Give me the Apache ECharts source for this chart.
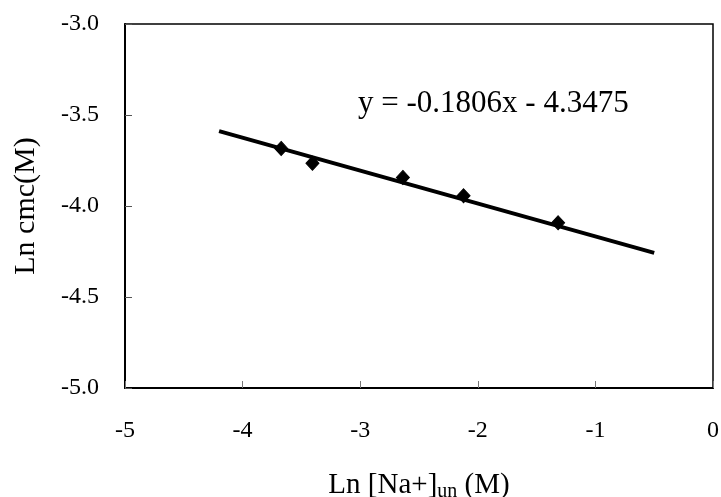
<!DOCTYPE html>
<html>
<head>
<meta charset="utf-8">
<script src="https://cdn.jsdelivr.net/npm/echarts@6/dist/echarts.min.js"></script>
<style>
  html, body { margin: 0; padding: 0; background: #fff; }
  #chart { width: 721px; height: 497px; }
</style>
</head>
<body>
<div id="chart"></div>
<script>
// Measured points: ln of unbound sodium concentration vs ln cmc
const lnNa = [-3.672, -3.406, -2.637, -2.121, -1.317];
const lnCmc = [-3.684, -3.765, -3.843, -3.944, -4.092];

// Linear fit, as printed on the chart
const slope = -0.1806;
const intercept = -4.3475;
const fitRange = [-4.2, -0.5];

const xTicks = [-5, -4, -3, -2, -1, 0];
const yTicks = [-5.0, -4.5, -4.0, -3.5, -3.0];

const serif = '"Liberation Serif", "Times New Roman", serif';

const points = lnNa.map((x, i) => [x, lnCmc[i]]);
const fitLine = fitRange.map(x => [x, slope * x + intercept]);
const eqText = 'y = ' + slope.toFixed(4) + 'x - ' + Math.abs(intercept).toFixed(4);

const chart = echarts.init(document.getElementById('chart'));
chart.setOption({
  animation: false,
  backgroundColor: '#fff',
  grid: {
    left: 125, top: 24, right: 8, bottom: 109,
    containLabel: false,
    outerBoundsMode: 'none',
    show: true, borderColor: '#000', borderWidth: 1.5
  },
  xAxis: {
    type: 'value',
    min: xTicks[0], max: xTicks[xTicks.length - 1], interval: 1,
    name: 'Ln [Na+]{sub|un} (M)',
    nameLocation: 'middle',
    nameGap: 80,
    nameTextStyle: {
      fontFamily: serif, fontSize: 29, color: '#000',
      rich: { sub: { fontFamily: serif, fontSize: 20, color: '#000', padding: [14, 0, 0, 0] } }
    },
    axisLine: { show: true, onZero: false, lineStyle: { color: '#000', width: 2 } },
    axisTick: { show: true, inside: true, length: 7, lineStyle: { color: '#777', width: 1 } },
    axisLabel: { fontFamily: serif, fontSize: 24, color: '#000', margin: 31 },
    splitLine: { show: false }
  },
  yAxis: {
    type: 'value',
    min: yTicks[0], max: yTicks[yTicks.length - 1], interval: 0.5,
    name: 'Ln cmc(M)',
    nameLocation: 'middle',
    nameGap: 84,
    nameRotate: 90,
    nameTextStyle: { fontFamily: serif, fontSize: 30, color: '#000' },
    axisLine: { show: true, onZero: false, lineStyle: { color: '#000', width: 2 } },
    axisTick: { show: true, inside: true, length: 7, lineStyle: { color: '#555', width: 1 } },
    axisLabel: {
      fontFamily: serif, fontSize: 24, color: '#000', margin: 26,
      formatter: v => v.toFixed(1)
    },
    splitLine: { show: false }
  },
  graphic: [{
    type: 'text',
    left: 358, top: 88,
    style: { text: eqText, fontFamily: serif, fontSize: 31, fill: '#000' }
  }],
  series: [
    {
      type: 'line',
      data: fitLine,
      showSymbol: false,
      lineStyle: { color: '#000', width: 4 },
      z: 2
    },
    {
      type: 'scatter',
      data: points,
      symbol: 'diamond',
      symbolSize: [13, 14],
      itemStyle: { color: '#000', borderColor: '#000', borderWidth: 1, opacity: 1 },
      z: 3
    }
  ]
});
</script>
</body>
</html>
